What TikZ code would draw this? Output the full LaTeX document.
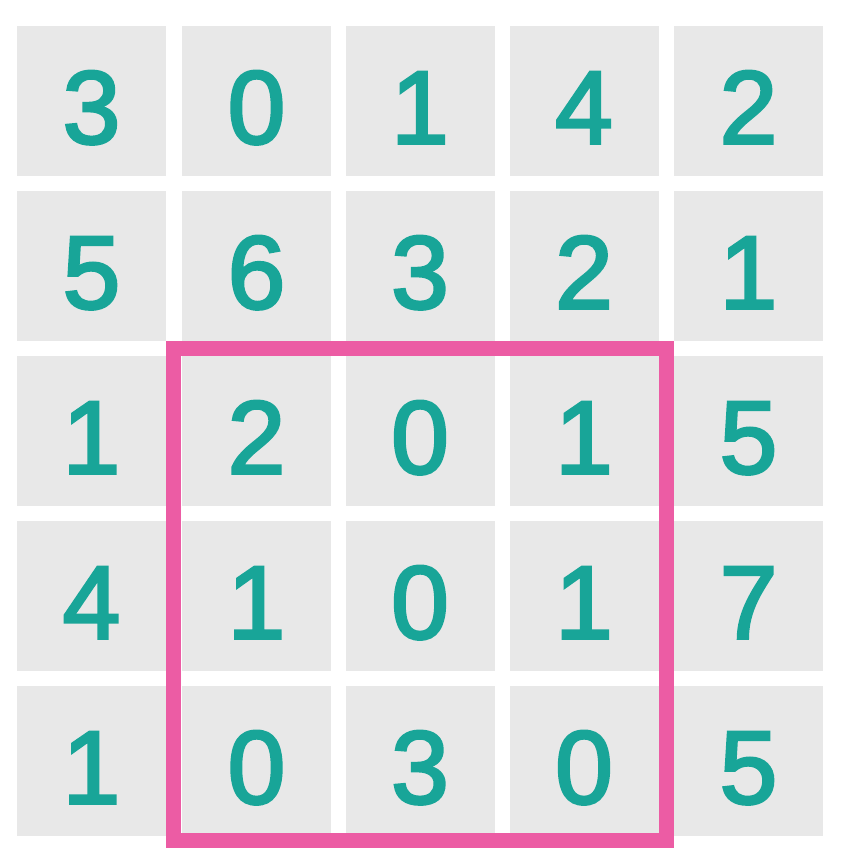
\documentclass[tikz,border=0pt]{standalone}
\usepackage{fontspec}
\setmainfont{Liberation Sans}
\newfontfamily\digitfont[FakeBold=2.6]{Liberation Sans}
\definecolor{cellgray}{HTML}{E8E8E8}
\definecolor{tealtxt}{HTML}{18A598}
\definecolor{pinkline}{HTML}{EC5CA4}
\begin{document}
\begin{tikzpicture}[x={(1pt,0)},y={(0,-1pt)},
  cell/.style={fill=cellgray, draw=none, minimum width=149pt, minimum height=150pt,
    inner sep=0pt, text=tealtxt, font=\digitfont\fontsize{104}{104}\selectfont,
    text height=85pt, text depth=0pt},
  pinkbox/.style={draw=pinkline, line width=15pt}]
\useasboundingbox (0,0) rectangle (845,849);
\fill[white] (0,0) rectangle (845,849);
\def\xa{91.5}\def\xb{256.5}\def\xc{420}\def\xd{584}\def\xe{748.5}
\def\ya{101}\def\yb{266}\def\yc{431}\def\yd{596}\def\ye{761}
% row 1
\node[cell] (c11) at (\xa,\ya) {3};
\node[cell] (c12) at (\xb,\ya) {0};
\node[cell] (c13) at (\xc,\ya) {1};
\node[cell] (c14) at (\xd,\ya) {4};
\node[cell] (c15) at (\xe,\ya) {2};
% row 2
\node[cell] (c21) at (\xa,\yb) {5};
\node[cell] (c22) at (\xb,\yb) {6};
\node[cell] (c23) at (\xc,\yb) {3};
\node[cell] (c24) at (\xd,\yb) {2};
\node[cell] (c25) at (\xe,\yb) {1};
% row 3
\node[cell] (c31) at (\xa,\yc) {1};
\node[cell] (c32) at (\xb,\yc) {2};
\node[cell] (c33) at (\xc,\yc) {0};
\node[cell] (c34) at (\xd,\yc) {1};
\node[cell] (c35) at (\xe,\yc) {5};
% row 4
\node[cell] (c41) at (\xa,\yd) {4};
\node[cell] (c42) at (\xb,\yd) {1};
\node[cell] (c43) at (\xc,\yd) {0};
\node[cell] (c44) at (\xd,\yd) {1};
\node[cell] (c45) at (\xe,\yd) {7};
% row 5
\node[cell] (c51) at (\xa,\ye) {1};
\node[cell] (c52) at (\xb,\ye) {0};
\node[cell] (c53) at (\xc,\ye) {3};
\node[cell] (c54) at (\xd,\ye) {0};
\node[cell] (c55) at (\xe,\ye) {5};
% highlight
\coordinate (hl1) at (173.5,348.5);
\coordinate (hl2) at (666.5,840.5);
\draw[pinkbox] (hl1) rectangle (hl2);
\end{tikzpicture}
\end{document}
